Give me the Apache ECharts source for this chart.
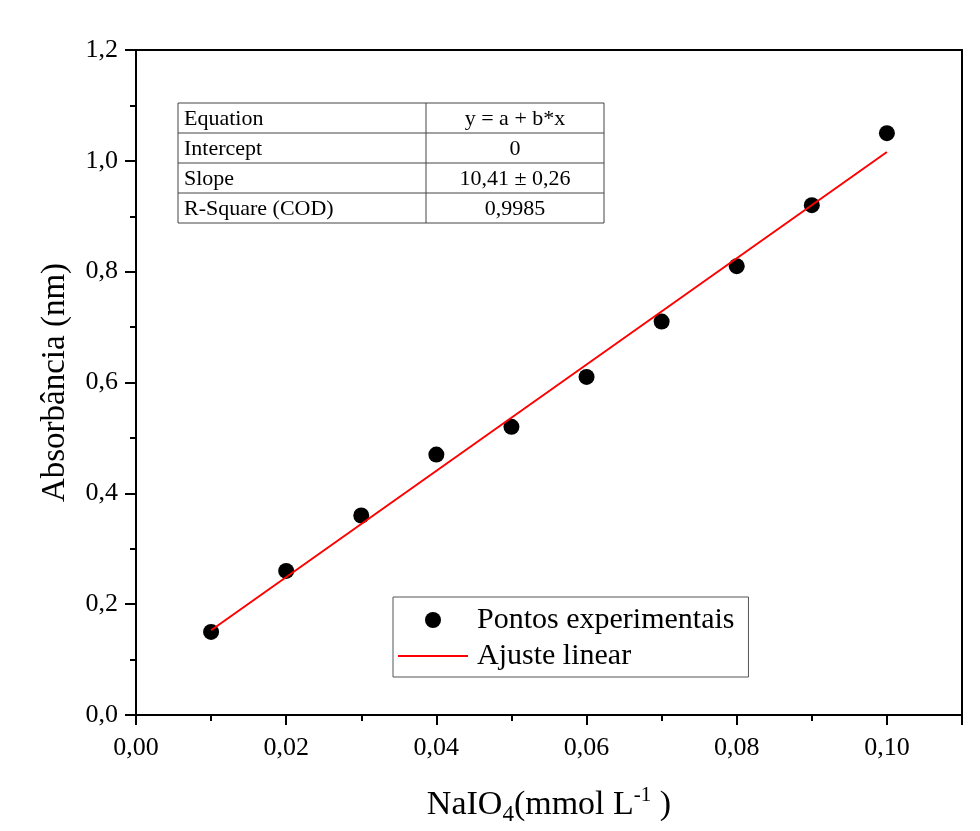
<!DOCTYPE html>
<html>
<head>
<meta charset="utf-8">
<script src="https://cdn.jsdelivr.net/npm/echarts@6/dist/echarts.min.js"></script>
<style>
html,body{margin:0;padding:0;background:#fff;}
#chart{width:980px;height:831px;}
</style>
</head>
<body>
<div id="chart"></div>
<script>
// ---- data ----
var xValues = [0.01, 0.02, 0.03, 0.04, 0.05, 0.06, 0.07, 0.08, 0.09, 0.10];
var yValues = [0.15, 0.26, 0.36, 0.47, 0.52, 0.61, 0.71, 0.81, 0.92, 1.05];
var fitX = [0.01, 0.10];
var fitY = [0.153, 1.016];
var seriesNames = ['Pontos experimentais', 'Ajuste linear'];
var tableLabels = ['Equation', 'Intercept', 'Slope', 'R-Square (COD)'];
var tableValues = ['y = a + b*x', '0', '10,41 \u00b1 0,26', '0,9985'];

var FONT = 'Liberation Serif';

function fmt(dec) {
  return function (v) { return v.toFixed(dec).replace('.', ','); };
}

// table graphic
var tLeft = 178, tTop = 103, tRowH = 30, tColSplit = 426, tRight = 604;
var tableEls = [];
tableEls.push({type: 'rect', shape: {x: tLeft, y: tTop, width: tRight - tLeft, height: tRowH * tableLabels.length},
  style: {fill: '#fff', stroke: '#444', lineWidth: 1}});
tableEls.push({type: 'line', shape: {x1: tColSplit, y1: tTop, x2: tColSplit, y2: tTop + tRowH * tableLabels.length},
  style: {stroke: '#444', lineWidth: 1}});
for (var i = 0; i < tableLabels.length; i++) {
  if (i > 0) {
    tableEls.push({type: 'line', shape: {x1: tLeft, y1: tTop + i * tRowH, x2: tRight, y2: tTop + i * tRowH},
      style: {stroke: '#444', lineWidth: 1}});
  }
  tableEls.push({type: 'text', x: tLeft + 6, y: tTop + i * tRowH + tRowH / 2 + 1,
    style: {text: tableLabels[i], font: '22px "' + FONT + '"', fill: '#000', verticalAlign: 'middle', align: 'left'}});
  tableEls.push({type: 'text', x: (tColSplit + tRight) / 2, y: tTop + i * tRowH + tRowH / 2 + 1,
    style: {text: tableValues[i], font: '22px "' + FONT + '"', fill: '#000', verticalAlign: 'middle', align: 'center'}});
}

var axisLineStyle = {color: '#000', width: 2};

var chart = echarts.init(document.getElementById('chart'), null, {renderer: 'canvas'});
chart.setOption({
  animation: false,
  backgroundColor: '#fff',
  grid: {left: 136, right: 18, top: 50, bottom: 116, containLabel: false, outerBoundsMode: 'none'},
  legend: {
    orient: 'vertical',
    left: 393, top: 597,
    data: [
      {name: seriesNames[0], icon: 'circle', itemStyle: {color: '#000', opacity: 1}},
      {name: seriesNames[1], itemStyle: {opacity: 0}, lineStyle: {color: '#ff0000', width: 2}}
    ],
    itemWidth: 70, itemHeight: 16,
    itemGap: 6,
    padding: [8, 14, 6, 4],
    borderColor: '#555', borderWidth: 1,
    textStyle: {fontFamily: FONT, fontSize: 30, color: '#000', lineHeight: 30, padding: [0, 0, 0, 4]}
  },
  xAxis: [{
    type: 'value', min: 0, max: 0.11, interval: 0.02,
    axisLine: {show: true, onZero: false, lineStyle: axisLineStyle},
    axisTick: {show: true, length: 10, lineStyle: axisLineStyle},
    minorTick: {show: true, splitNumber: 2, length: 6, lineStyle: axisLineStyle},
    splitLine: {show: false},
    axisLabel: {formatter: fmt(2), fontFamily: FONT, fontSize: 26, color: '#000', margin: 20, showMaxLabel: false},
    name: 'NaIO{sub|4}(mmol L{sup|-1} )',
    nameLocation: 'middle', nameGap: 70,
    nameTextStyle: {
      fontFamily: FONT, fontSize: 34, color: '#000',
      rich: {
        sub: {fontFamily: FONT, fontSize: 23, color: '#000', verticalAlign: 'bottom', padding: [18, 0, 0, 0]},
        sup: {fontFamily: FONT, fontSize: 21, color: '#000', verticalAlign: 'top', padding: [0, 0, 16, 0]}
      }
    }
  }, {
    type: 'value', min: 0, max: 0.11, position: 'top',
    axisLine: {show: true, onZero: false, lineStyle: axisLineStyle},
    axisTick: {show: false}, axisLabel: {show: false}, splitLine: {show: false}
  }],
  yAxis: [{
    type: 'value', min: 0, max: 1.2, interval: 0.2,
    axisLine: {show: true, onZero: false, lineStyle: axisLineStyle},
    axisTick: {show: true, length: 11, lineStyle: axisLineStyle},
    minorTick: {show: true, splitNumber: 2, length: 6, lineStyle: axisLineStyle},
    splitLine: {show: false},
    axisLabel: {formatter: fmt(1), fontFamily: FONT, fontSize: 26, color: '#000', margin: 18},
    name: 'Absorbância (nm)',
    nameLocation: 'middle', nameGap: 64,
    nameTextStyle: {fontFamily: FONT, fontSize: 33, color: '#000'}
  }, {
    type: 'value', min: 0, max: 1.2, position: 'right',
    axisLine: {show: true, onZero: false, lineStyle: axisLineStyle},
    axisTick: {show: false}, axisLabel: {show: false}, splitLine: {show: false}
  }],
  series: [{
    name: seriesNames[0],
    type: 'scatter',
    symbol: 'circle', symbolSize: 16,
    itemStyle: {color: '#000', opacity: 1},
    data: xValues.map(function (x, i) { return [x, yValues[i]]; }),
    z: 3
  }, {
    name: seriesNames[1],
    type: 'line',
    showSymbol: false, symbol: 'none',
    lineStyle: {color: '#ff0000', width: 2},
    itemStyle: {color: '#ff0000'},
    data: fitX.map(function (x, i) { return [x, fitY[i]]; }),
    z: 4
  }],
  graphic: tableEls
});
</script>
</body>
</html>
